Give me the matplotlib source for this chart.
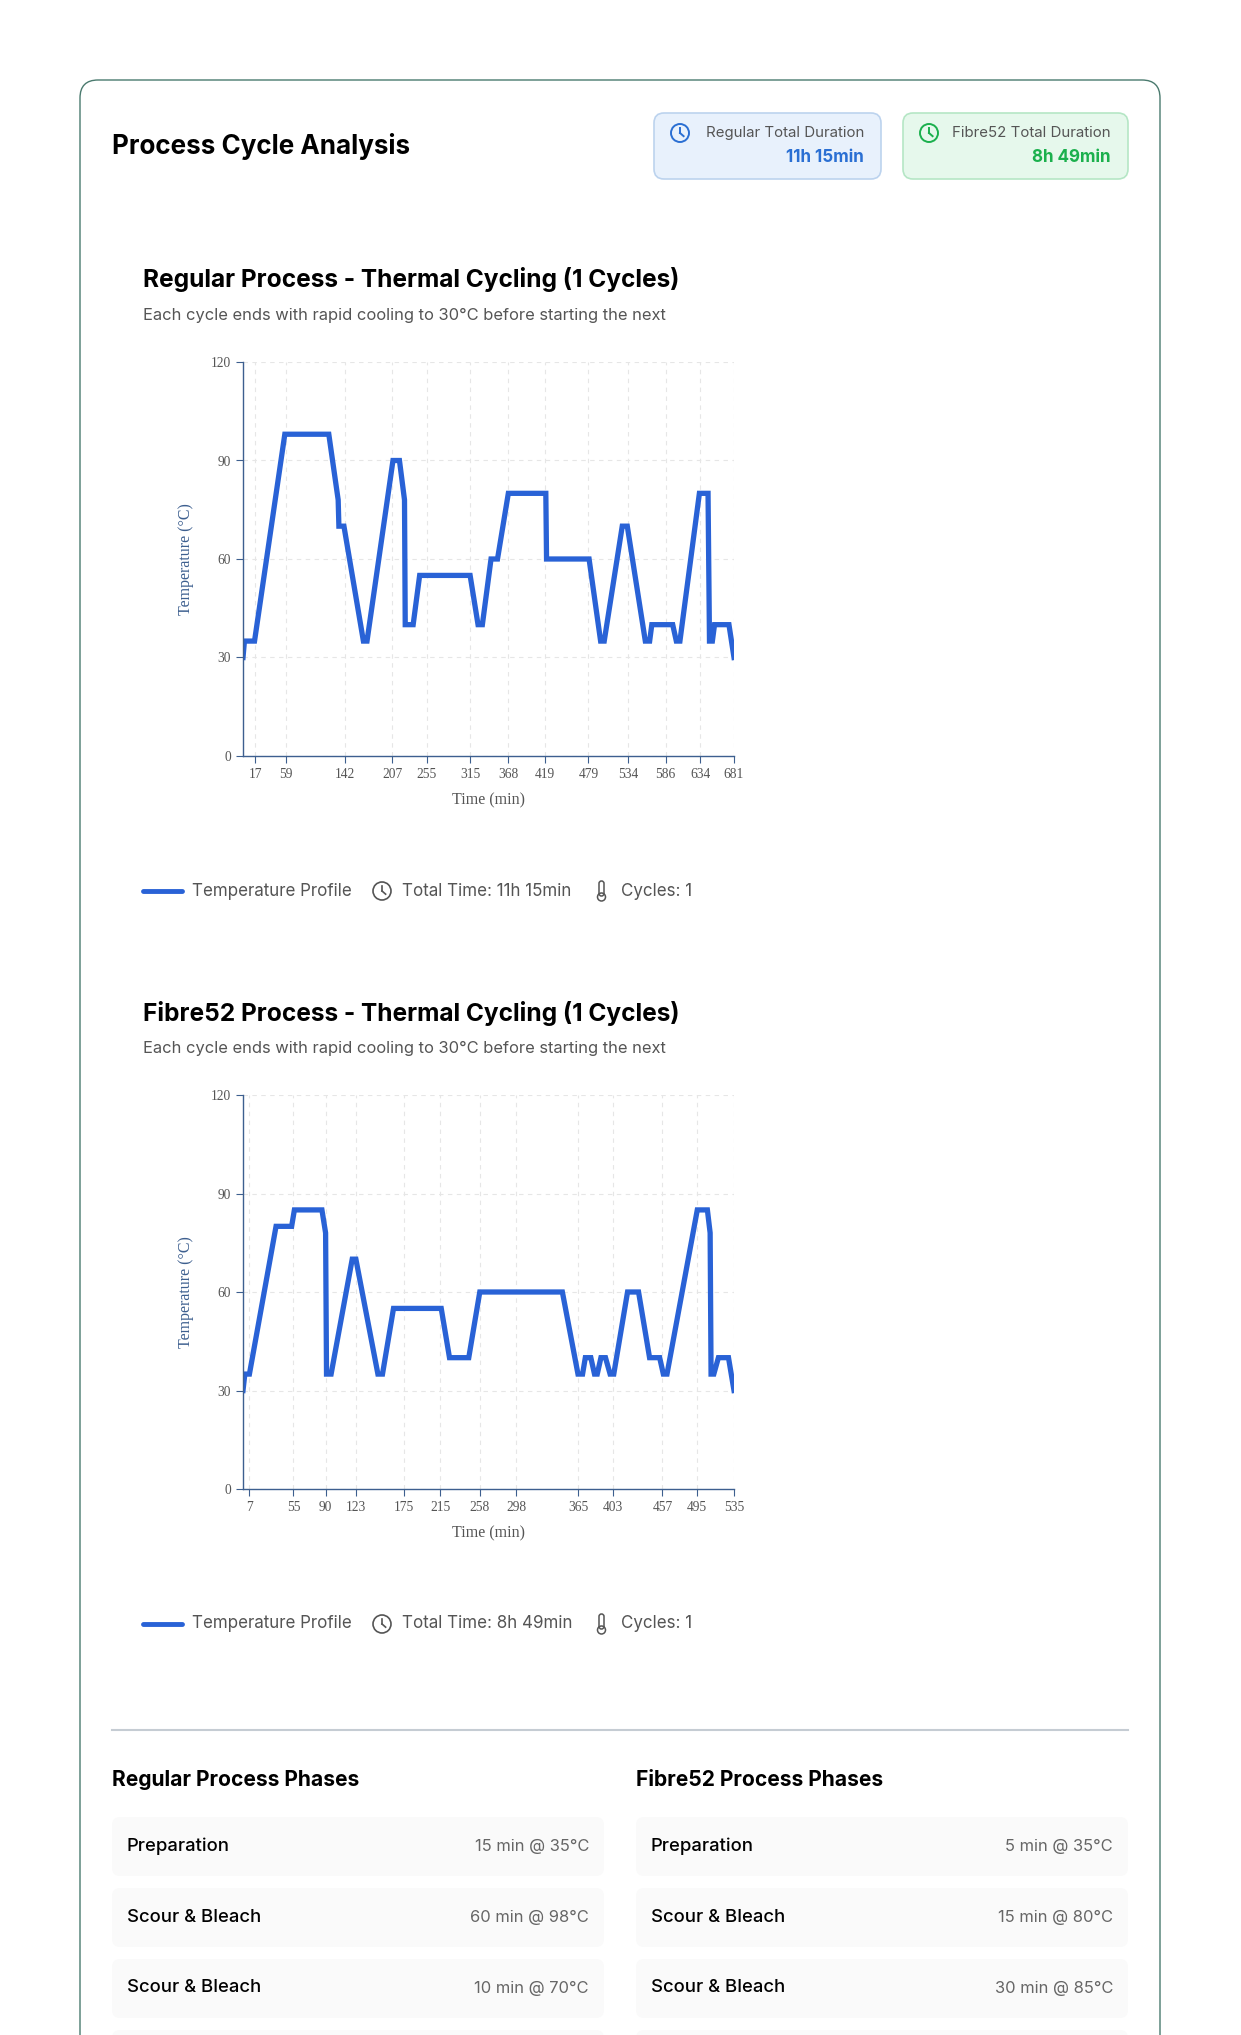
import matplotlib
matplotlib.use("Agg")
import matplotlib.pyplot as plt
from matplotlib.patches import FancyBboxPatch, Circle, Rectangle
from matplotlib.lines import Line2D

W, H = 1241, 2035
reg_t = [0, 2, 16, 58, 119, 132, 133, 140, 167, 172, 208, 217, 224, 225, 236, 245, 315, 326, 332, 344, 353, 368, 420, 421, 480, 496, 501, 526, 533, 558, 564, 567, 596, 601, 606, 633, 645, 647, 651, 654, 674, 681]
reg_v = [30, 35, 35, 98, 98, 78, 70, 70, 35, 35, 90, 90, 78, 40, 40, 55, 55, 40, 40, 60, 60, 80, 80, 60, 60, 35, 35, 70, 70, 35, 35, 40, 40, 35, 35, 80, 80, 35, 35, 40, 40, 30]
reg_ticks = [17, 59, 142, 207, 255, 315, 368, 419, 479, 534, 586, 634, 681]
fib_t = [0, 2, 7, 36, 53, 56, 86, 90, 91, 96, 119, 123, 147, 152, 164, 216, 225, 246, 258, 348, 365, 370, 373, 379, 383, 386, 390, 395, 400, 404, 419, 431, 443, 454, 458, 462, 495, 506, 509, 510, 513, 518, 529, 535]
fib_v = [30, 35, 35, 80, 80, 85, 85, 78, 35, 35, 70, 70, 35, 35, 55, 55, 40, 40, 60, 60, 35, 35, 40, 40, 35, 35, 40, 40, 35, 35, 60, 60, 40, 40, 35, 35, 85, 85, 78, 35, 35, 40, 40, 30]
fib_ticks = [7, 55, 90, 123, 175, 215, 258, 298, 365, 403, 457, 495, 535]
y_ticks = [0, 30, 60, 90, 120]

reg_phases = [("Preparation", "15 min @ 35°C"), ("Scour & Bleach", "60 min @ 98°C"), ("Scour & Bleach", "10 min @ 70°C"), ("", "")]
fib_phases = [("Preparation", "5 min @ 35°C"), ("Scour & Bleach", "15 min @ 80°C"), ("Scour & Bleach", "30 min @ 85°C"), ("", "")]

LINE = "#2962d6"
AXC = "#3d5f8f"
SANS = ["Inter", "DejaVu Sans"]
SERIF = ["Liberation Serif", "DejaVu Serif"]

fig = plt.figure(figsize=(W/100, H/100), dpi=100)
bg = fig.add_axes([0, 0, 1, 1])
bg.set_xlim(0, W); bg.set_ylim(H, 0); bg.axis("off")

def fs(px):
    return px * 0.72

# card
bg.add_patch(FancyBboxPatch((80, 80), 1080, 2100, boxstyle="round,pad=0,rounding_size=18",
                            fc="white", ec="#4a7a6e", lw=1.0))
bg.text(112, 146, "Process Cycle Analysis", fontsize=fs(26), fontweight="bold", family=SANS, va="center")

def clock(x, y, r, color, lw=1.4):
    bg.add_patch(Circle((x, y), r, fill=False, ec=color, lw=lw))
    bg.plot([x, x], [y, y - r*0.6], color=color, lw=lw)
    bg.plot([x, x + r*0.4], [y, y + r*0.35], color=color, lw=lw)

def badge(x0, x1, fc, ec, col, label, val):
    bg.add_patch(FancyBboxPatch((x0, 113), x1 - x0, 66, boxstyle="round,pad=0,rounding_size=10",
                                fc=fc, ec=ec, lw=1.2))
    clock(x0 + 26, 133, 9, col)
    bg.text(x1 - 17, 133, label, fontsize=fs(15), color="#555", family=SANS, ha="right", va="center")
    bg.text(x1 - 17, 157, val, fontsize=fs(17), color=col, fontweight="bold", family=SANS, ha="right", va="center")

badge(654, 881, "#e8f1fc", "#bcd3ee", "#2a6fd3", "Regular Total Duration", "11h 15min")
badge(903, 1128, "#e6f8ec", "#b5e6c5", "#1bb04d", "Fibre52 Total Duration", "8h 49min")

def chart(top, title, t, v, ticks, total):
    bg.text(143, top, title, fontsize=fs(24.5), fontweight="bold", family=SANS, va="center")
    bg.text(143, top + 35, "Each cycle ends with rapid cooling to 30°C before starting the next",
            fontsize=fs(16.5), color="#555", family=SANS, va="center")
    ax_top, ax_bot, ax_l, ax_r = top + 82, top + 476, 243, 734
    ax = fig.add_axes([ax_l/W, 1 - ax_bot/H, (ax_r-ax_l)/W, (ax_bot-ax_top)/H])
    ax.plot(t, v, color=LINE, lw=3.8, solid_joinstyle="miter")
    ax.set_xlim(0, t[-1]); ax.set_ylim(0, 120)
    ax.set_xticks(ticks); ax.set_yticks(y_ticks)
    ax.grid(True, ls=(0, (4, 4)), color="#e6e6e6", lw=0.8)
    for s in ["top", "right"]:
        ax.spines[s].set_visible(False)
    for s in ["left", "bottom"]:
        ax.spines[s].set_color(AXC); ax.spines[s].set_linewidth(1.0)
    ax.tick_params(colors=AXC, labelsize=fs(13.5), length=5, width=0.8)
    for lab in ax.get_xticklabels() + ax.get_yticklabels():
        lab.set_family(SERIF); lab.set_color("#555")
    ax.set_xlabel("Time (min)", family=SERIF, fontsize=fs(16), color="#555", labelpad=8)
    ax.set_ylabel("Temperature (°C)", family=SERIF, fontsize=fs(16), color=AXC, labelpad=12)
    ly = top + 611
    bg.plot([143, 182], [ly, ly], color=LINE, lw=3.5, solid_capstyle="round")
    bg.text(192, ly, "Temperature Profile", fontsize=fs(17), color="#555", family=SANS, va="center")
    clock(382, ly, 9, "#555", lw=1.2)
    bg.text(402, ly, f"Total Time: {total}", fontsize=fs(17), color="#555", family=SANS, va="center")
    bg.add_patch(FancyBboxPatch((599, ly - 10), 5, 15, boxstyle="round,pad=0,rounding_size=2.5",
                                fill=False, ec="#555", lw=1.1))
    bg.add_patch(Circle((601.5, ly + 6), 4, fill=False, ec="#555", lw=1.1))
    bg.text(621, ly, "Cycles: 1", fontsize=fs(17), color="#555", family=SANS, va="center")

chart(280, "Regular Process - Thermal Cycling (1 Cycles)", reg_t, reg_v, reg_ticks, "11h 15min")
chart(1013, "Fibre52 Process - Thermal Cycling (1 Cycles)", fib_t, fib_v, fib_ticks, "8h 49min")

bg.plot([112, 1128], [1730, 1730], color="#c5ccd3", lw=1.5)

def phases(x0, x1, header, rows):
    bg.text(x0, 1780, header, fontsize=fs(21), fontweight="bold", family=SANS, va="center")
    for i, (name, val) in enumerate(rows):
        y = 1817 + i * 71
        bg.add_patch(FancyBboxPatch((x0, y), x1 - x0, 59, boxstyle="round,pad=0,rounding_size=8",
                                    fc="#fafafa", ec="none"))
        if name:
            bg.text(x0 + 15, y + 29, name, fontsize=fs(18.5), fontweight="medium", family=SANS, va="center")
            bg.text(x1 - 15, y + 29, val, fontsize=fs(16.5), color="#666", family=SANS, va="center", ha="right")

phases(112, 604, "Regular Process Phases", reg_phases)
phases(636, 1128, "Fibre52 Process Phases", fib_phases)

fig.savefig("out.png", dpi=100)
